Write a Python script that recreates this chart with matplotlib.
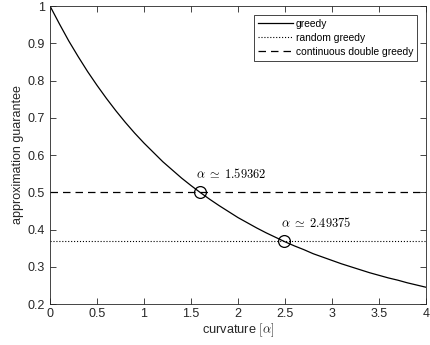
import matplotlib
matplotlib.use("Agg")
import matplotlib.pyplot as plt

plt.rcParams['font.family'] = ['Liberation Sans', 'DejaVu Sans']
plt.rcParams['mathtext.fontset'] = 'cm'

# curvature values and greedy guarantee
alpha = [0.0, 0.1, 0.2, 0.3, 0.4, 0.5, 0.6, 0.7, 0.8, 0.9,
         1.0, 1.1, 1.2, 1.3, 1.4, 1.5, 1.6, 1.7, 1.8, 1.9,
         2.0, 2.1, 2.2, 2.3, 2.4, 2.5, 2.6, 2.7, 2.8, 2.9,
         3.0, 3.1, 3.2, 3.3, 3.4, 3.5, 3.6, 3.7, 3.8, 3.9, 4.0]
greedy = [1.000, 0.952, 0.906, 0.864, 0.824, 0.787, 0.752, 0.719, 0.688, 0.659,
          0.632, 0.607, 0.582, 0.560, 0.538, 0.518, 0.499, 0.481, 0.464, 0.448,
          0.432, 0.418, 0.404, 0.391, 0.379, 0.367, 0.356, 0.346, 0.335, 0.326,
          0.317, 0.308, 0.300, 0.292, 0.284, 0.277, 0.270, 0.264, 0.257, 0.251, 0.245]
random_greedy = 0.3679
double_greedy = 0.5

cross_alpha = [1.59362, 2.49375]
cross_value = [double_greedy, random_greedy]
cross_labels = [r'$\alpha\;\simeq\;1.59362$', r'$\alpha\;\simeq\;2.49375$']

fig = plt.figure(figsize=(4.3, 3.45), dpi=100)
ax = fig.add_axes([0.1163, 0.1188, 0.8744, 0.8638])

ax.plot(alpha, greedy, '-', color='k', lw=0.9, label='greedy')
ax.plot([alpha[0], alpha[-1]], [random_greedy] * 2, ':', color='k', lw=0.8,
        label='random greedy')
ax.plot([alpha[0], alpha[-1]], [double_greedy] * 2, '--', color='k', lw=0.9,
        dashes=(6, 4), label='continuous double greedy')
ax.plot(cross_alpha, cross_value, 'o', mfc='none', mec='k', ms=8.5, mew=0.9)

for a, v, s in zip(cross_alpha, cross_value, cross_labels):
    ax.text(a - 0.04, v + 0.03, s, fontsize=9, ha='left', va='bottom')

ax.set_xlim(0, 4)
ax.set_ylim(0.2, 1)
ax.set_xticks([0, 0.5, 1, 1.5, 2, 2.5, 3, 3.5, 4])
ax.set_xticklabels(['0', '0.5', '1', '1.5', '2', '2.5', '3', '3.5', '4'])
ax.set_yticks([0.2, 0.3, 0.4, 0.5, 0.6, 0.7, 0.8, 0.9, 1])
ax.set_yticklabels(['0.2', '0.3', '0.4', '0.5', '0.6', '0.7', '0.8', '0.9', '1'])
ax.tick_params(direction='in', length=4, width=0.6, labelsize=9, colors='#262626',
               top=True, right=True)
ax.tick_params(axis='x', pad=3)
for sp in ax.spines.values():
    sp.set_color('#262626')
    sp.set_linewidth(0.6)

ax.set_xlabel(r'curvature $[\alpha]$', fontsize=9.2, color='#262626', labelpad=1)
ax.set_ylabel('approximation guarantee', fontsize=9, color='#262626', labelpad=3)

leg = ax.legend(loc='upper right', fontsize=7.4, frameon=True, fancybox=False,
                edgecolor='#262626', framealpha=1, handlelength=3.4, borderaxespad=0.9,
                labelspacing=0.4, handletextpad=0.3, borderpad=0.35)
leg.get_frame().set_linewidth(0.6)

fig.savefig('out.png', dpi=100)
